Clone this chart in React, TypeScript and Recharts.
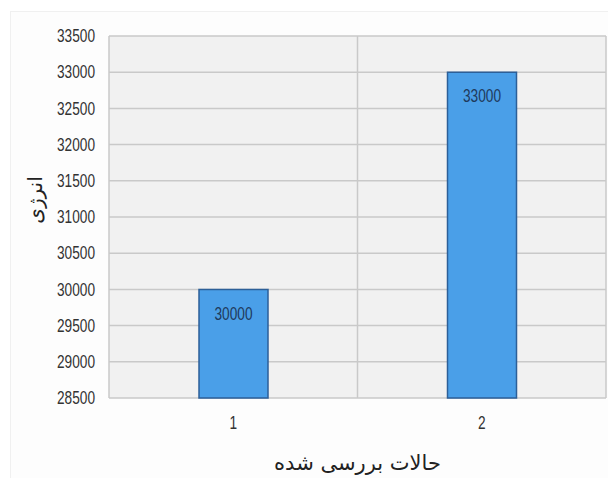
import React from 'react';
import { BarChart, Bar, XAxis, YAxis, CartesianGrid, LabelList, Label } from 'recharts';

const categories = ['1', '2'];
const energyValues = [30000, 33000];
const yTicks = [28500, 29000, 29500, 30000, 30500, 31000, 31500, 32000, 32500, 33000, 33500];
const yTitle = 'انرژی';
const xTitle = 'حالات بررسی شده';

const chartData = categories.map((name, i) => ({ name, energy: energyValues[i] }));

const numFont = '"Liberation Sans", Arial, sans-serif';
const faFont = '"DejaVu Sans", sans-serif';
const squeeze = 0.76;

// narrow text, scaled horizontally about its anchor point
const NarrowText = ({ x, y, anchor, fill, children }: any) => (
  <text
    x={x}
    y={y}
    textAnchor={anchor}
    dominantBaseline="central"
    fontFamily={numFont}
    fontSize={18}
    fill={fill}
    transform={`translate(${x} ${y}) scale(${squeeze} 1) translate(${-x} ${-y})`}
  >
    {children}
  </text>
);

const YTick = (props: any) => {
  const { x, y, payload } = props;
  return (
    <NarrowText x={x} y={y} anchor="end" fill="#333">
      {payload.value}
    </NarrowText>
  );
};

const XTick = (props: any) => {
  const { x, y, payload } = props;
  return (
    <NarrowText x={x} y={y + 6} anchor="middle" fill="#333">
      {payload.value}
    </NarrowText>
  );
};

const BarValue = (props: any) => {
  const { x, y, width, value } = props;
  return (
    <NarrowText x={x + width / 2} y={y + 24} anchor="middle" fill="#1f3a5c">
      {value}
    </NarrowText>
  );
};

const YTitle = (props: any) => {
  const { viewBox } = props;
  const x = viewBox.x + 25;
  const y = viewBox.y + viewBox.height / 2 - 17;
  return (
    <text
      x={x}
      y={y}
      transform={`rotate(-90, ${x}, ${y})`}
      textAnchor="middle"
      dominantBaseline="central"
      fontFamily={faFont}
      fontSize={20}
      fill="#222"
    >
      {yTitle}
    </text>
  );
};

const App: React.FC = () => {
  return (
    <div style={{ position: 'absolute', left: 0, top: 0, width: 608, height: 478, background: '#fff' }}>
      <div
        style={{
          position: 'absolute',
          left: 10,
          top: 11,
          width: 598,
          height: 467,
          background: '#fdfdfd',
          borderLeft: '1px solid #f0f0f0',
          borderTop: '1px solid #f0f0f0',
        }}
      />
      <div style={{ position: 'absolute', left: 0, top: 0 }}>
        <BarChart
          width={608}
          height={478}
          data={chartData}
          margin={{ top: 36, right: 2, bottom: 0, left: 10 }}
          barCategoryGap={90}
        >
          <CartesianGrid
            fill="#f1f1f1"
            stroke="#c9c9c9"
            strokeWidth={1.5}
            verticalCoordinatesGenerator={({ offset }: any) => [
              offset.left,
              offset.left + offset.width / 2,
              offset.left + offset.width,
            ]}
          />
          <XAxis
            dataKey="name"
            height={80}
            axisLine={false}
            tickLine={false}
            tickSize={0}
            tickMargin={19}
            tick={<XTick />}
          >
            <Label
              value={xTitle}
              position="insideBottom"
              offset={8}
              style={{ fontFamily: faFont, fontSize: 21, fill: '#222' }}
            />
          </XAxis>
          <YAxis
            width={99}
            domain={[28500, 33500]}
            ticks={yTicks}
            interval={0}
            axisLine={false}
            tickLine={false}
            tickSize={0}
            tickMargin={14}
            tick={<YTick />}
          >
            <Label content={<YTitle />} />
          </YAxis>
          <Bar
            dataKey="energy"
            fill="#4a9fe8"
            stroke="#2c5f98"
            strokeWidth={1.5}
            isAnimationActive={false}
          >
            <LabelList dataKey="energy" content={<BarValue />} />
          </Bar>
        </BarChart>
      </div>
    </div>
  );
};

export default App;
